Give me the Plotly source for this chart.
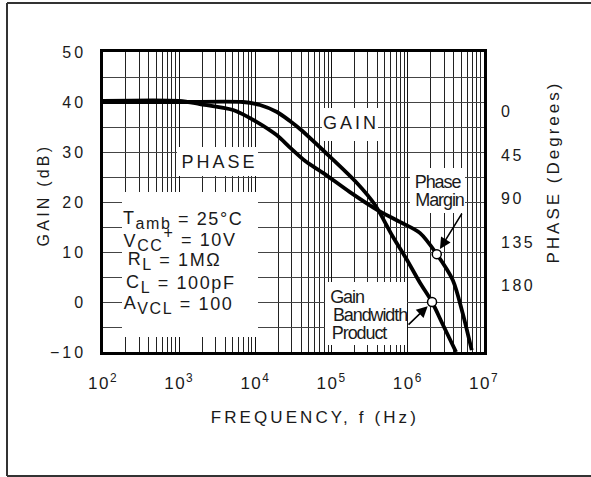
import math
import plotly.graph_objects as go

# ---------------- data ----------------
gain_freq_hz = [100, 1000, 6870, 11500, 19200, 28400, 38500, 81800, 215000,
                372000, 640000, 977000, 1450000, 2080000, 2900000, 4300000]
gain_db = [40, 40, 40, 39.4, 38.0, 36.2, 34.6, 30.0, 23.8,
           19.4, 13.0, 8.4, 3.8, 0, -4.6, -10]

phase_freq_hz = [100, 1000, 1860, 5100, 10500, 19000, 28000, 45000, 78000,
                 174000, 400000, 800000, 1450000, 2400000, 3900000, 5250000, 6900000]
phase_deg = [-11, -11, -7.9, -1.7, 10.8, 24.3, 36.7, 51.2, 63.7,
             83.4, 102.0, 114.5, 125.9, 147.7, 174.7, 208.9, 247.2]

gbp_freq_hz = [2080000]
gbp_gain_db = [0]
pm_freq_hz = [2400000]
pm_phase_deg = [147.7]

x_tick_exponents = [2, 3, 4, 5, 6, 7]
gain_ticks = [-10, 0, 10, 20, 30, 40, 50]
phase_ticks = [0, 45, 90, 135, 180]

conditions = [
    "T<sub>amb</sub> = 25°C",
    "V<sub>CC</sub><sup>+</sup> = 10V",
    "R<sub>L</sub> = 1MΩ",
    "C<sub>L</sub> = 100pF",
    "A<sub>VCL</sub> = 100",
]

# ---------------- figure ----------------
FONT = "Liberation Sans, Arial, Helvetica, sans-serif"
L, R, T, B = 103, 107, 52, 125
W, H = 591, 477
PW, PH = W - L - R, H - T - B


def px(x):
    return (x - L) / PW


def py(y):
    return (H - B - y) / PH


def dx(x):  # pixel column -> frequency (shape coords on a log axis)
    return 10 ** (2 + 5 * (x - L) / PW)


def dy(y):  # pixel row -> gain value
    return 50 - 60 * (y - T) / PH


fig = go.Figure()

line_style = dict(color="black", width=3.8, shape="spline", smoothing=0.8)
fig.add_trace(go.Scatter(x=gain_freq_hz, y=gain_db, mode="lines", line=line_style,
                         showlegend=False, hoverinfo="skip"))
fig.add_trace(go.Scatter(x=phase_freq_hz, y=phase_deg, mode="lines", yaxis="y2", line=line_style,
                         showlegend=False, hoverinfo="skip"))
mk = dict(size=9, color="white", line=dict(color="black", width=1.5))
fig.add_trace(go.Scatter(x=gbp_freq_hz, y=gbp_gain_db, mode="markers", marker=mk,
                         showlegend=False, hoverinfo="skip"))
fig.add_trace(go.Scatter(x=pm_freq_hz, y=pm_phase_deg, mode="markers", yaxis="y2", marker=mk,
                         showlegend=False, hoverinfo="skip"))

minor_x = [m * 10 ** e for e in x_tick_exponents[:-1] for m in range(2, 10)]

fig.update_layout(
    width=W, height=H, autosize=False,
    margin=dict(l=L, r=R, t=T, b=B, pad=0),
    paper_bgcolor="white", plot_bgcolor="white",
    font=dict(family=FONT, color="#1a1a1a", size=15),
    xaxis=dict(
        type="log", range=[2, 7],
        tickvals=[10 ** e for e in x_tick_exponents],
        ticktext=[f"10<sup>{e}</sup>" for e in x_tick_exponents],
        tickfont=dict(size=17), ticks="", ticklabelstandoff=14,
        showgrid=True, gridcolor="#111", gridwidth=1.4,
        minor=dict(tickvals=minor_x, showgrid=True, gridcolor="#222", gridwidth=1.2, ticks=""),
        showline=True, linecolor="black", linewidth=2.5, mirror=True,
        zeroline=False,
    ),
    yaxis=dict(
        range=[-10, 50], tickvals=gain_ticks,
        tickfont=dict(size=16), ticks="", ticklabelstandoff=11,
        showgrid=True, gridcolor="#444", gridwidth=1.3,
        minor=dict(dtick=5, showgrid=True, gridcolor="#444", gridwidth=1.3, ticks=""),
        showline=True, linecolor="black", linewidth=2.5, mirror=True,
        zeroline=False,
    ),
    yaxis2=dict(
        overlaying="y", side="right", range=[249.1, -61.8],
        tickvals=phase_ticks, tickfont=dict(size=16), ticks="", ticklabelstandoff=16,
        showgrid=False, zeroline=False, showline=False,
    ),
)

# white label boxes: above the grid, below the curves
boxes = [
    (177, 147, 258, 176),   # PHASE
    (322, 108, 378, 141),   # GAIN
    (122, 192, 258, 337),   # conditions
    (410, 168, 465, 213),   # Phase Margin
    (325, 282, 407, 345),   # Gain Bandwidth Product
]
for x0, y0, x1, y1 in boxes:
    fig.add_shape(type="rect", xref="x", yref="y",
                  x0=dx(x0), x1=dx(x1), y0=dy(y1), y1=dy(y0),
                  fillcolor="white", line=dict(width=0), layer="between")

# outer frame: left, top and bottom edges only
frame = dict(color="#333", width=2)
fig.add_shape(type="line", xref="paper", yref="paper", x0=px(7), x1=px(7), y0=py(476), y1=py(3), line=frame)
fig.add_shape(type="line", xref="paper", yref="paper", x0=px(7), x1=px(595), y0=py(3), y1=py(3), line=frame)
fig.add_shape(type="line", xref="paper", yref="paper", x0=px(7), x1=px(595), y0=py(476), y1=py(476), line=frame)

ann = []
ann.append(dict(text="PHASE", x=px(219), y=py(162), font=dict(size=18), ls=3))
ann.append(dict(text="GAIN", x=px(351), y=py(123), font=dict(size=18), ls=3))
cond_y = [219, 240, 260, 283, 304]
cond_idx = []
for t, yy in zip(conditions, cond_y):
    cond_idx.append(len(ann))
    ann.append(dict(text=t, x=px(133), y=py(yy), xanchor="left", font=dict(size=18), ls=1.6))
narrow = [("Phase", 410, 182), ("Margin", 410, 200),
          ("Gain", 326, 297), ("Bandwidth", 326, 315), ("Product", 326, 333)]
for t, xx, yy in narrow:
    ann.append(dict(text=t, x=px(xx), y=py(yy), xanchor="left", font=dict(size=18), ls=-1.1))
ann.append(dict(text="GAIN (dB)", x=px(43), y=py(195), textangle=-90, font=dict(size=16), ls=3.2))
ann.append(dict(text="PHASE (Degrees)", x=px(553), y=py(172), textangle=-90, font=dict(size=17), ls=3))
ann.append(dict(text="FREQUENCY, f (Hz)", x=px(315), y=py(417), font=dict(size=17), ls=3.1))

css = ["body{margin:0;overflow:hidden;}",
       ".xtick text{letter-spacing:1.5px;}",
       ".ytick text{letter-spacing:3px;}",
       ".y2tick text{letter-spacing:2.5px;}"]
for i, a in enumerate(ann):
    ls = a.pop("ls")
    css.append('.annotation[data-index="%d"] text{letter-spacing:%spx;}' % (i, ls))
    a.setdefault("xanchor", "center")
    a.update(xref="paper", yref="paper", yanchor="middle", showarrow=False)
    fig.add_annotation(**a)
# the datasheet prints the subscripts nearly full size
for i in cond_idx:
    css.append('.annotation[data-index="%d"] tspan[style*="70%%"]{font-size:16px !important;}' % i)

# pointer arrows
fig.add_annotation(x=math.log10(pm_freq_hz[0]), y=pm_phase_deg[0], xref="x", yref="y2",
                   ax=26, ay=-42, text="", showarrow=True, arrowhead=2, arrowsize=1.4,
                   arrowwidth=1.6, arrowcolor="black", standoff=6)
fig.add_annotation(x=math.log10(gbp_freq_hz[0]), y=gbp_gain_db[0], xref="x", yref="y",
                   ax=-25, ay=24, text="", showarrow=True, arrowhead=2, arrowsize=1.4,
                   arrowwidth=1.6, arrowcolor="black", standoff=6)

post = """
var gd = document.getElementById('{plot_id}');
var st = document.createElement('style');
st.textContent = %r;
document.head.appendChild(st);
Plotly.newPlot(gd, gd.data, gd.layout, {displayModeBar: false});
""" % " ".join(css)

fig.write_html("out.html", post_script=post, config={"displayModeBar": False})
